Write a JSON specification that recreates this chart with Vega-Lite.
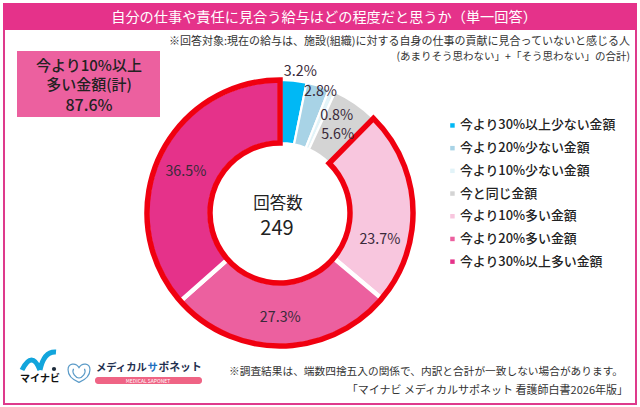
{"$schema":"https://vega.github.io/schema/vega-lite/v6.json","width":640,"height":407,"autosize":{"type":"none"},"padding":0,"background":"#ffffff","config":{"font":"Noto Sans CJK JP","view":{"stroke":null}},
"title":{"text":"自分の仕事や責任に見合う給与はどの程度だと思うか（単一回答）","anchor":"middle","frame":"group","orient":"top","offset":-25,"dx":4,"color":"#ffffff","fontSize":14.2,"fontWeight":400,"font":"Noto Sans CJK JP"},
"datasets":{"shares":[{"answer":"今より30%以上少ない金額","pct":3.2,"label":"3.2%","rank":1},{"answer":"今より20%少ない金額","pct":2.8,"label":"2.8%","rank":2},{"answer":"今より10%少ない金額","pct":0.8,"label":"0.8%","rank":3},{"answer":"今と同じ金額","pct":5.6,"label":"5.6%","rank":4},{"answer":"今より10%多い金額","pct":23.7,"label":"23.7%","rank":5},{"answer":"今より20%多い金額","pct":27.3,"label":"27.3%","rank":6},{"answer":"今より30%以上多い金額","pct":36.5,"label":"36.5%","rank":7}],"outline":[{"part":"その他","pct":12.4,"rank":1},{"part":"今より10%以上多い金額(計)","pct":87.6,"rank":2}]},
"resolve":{"scale":{"theta":"independent"}},
"layer":[
{"data":{"values":[{"box":"frame"}]},"mark":{"type":"rect","x":4,"y":4,"x2":636,"y2":404,"fill":"#ffffff","stroke":"#DE3A8C","strokeWidth":2}},
{"data":{"values":[{"box":"header"}]},"mark":{"type":"rect","x":3,"y":3,"x2":637,"y2":30,"fill":"#E5328A"}},
{"data":{"values":[{"box":"total"}]},"mark":{"type":"rect","x":17,"y":51,"x2":160,"y2":117,"fill":"#EC609F"}},
{"data":{"name":"shares"},"mark":{"type":"arc","innerRadius":70,"outerRadius":133,"x":280,"y":213,"stroke":"#ffffff","strokeWidth":{"expr":"datum.rank>=5?4.5:2.2"}},"encoding":{"theta":{"field":"pct","type":"quantitative","stack":true},"order":{"field":"rank"},"color":{"field":"answer","type":"nominal","scale":{"domain":["今より30%以上少ない金額","今より20%少ない金額","今より10%少ない金額","今と同じ金額","今より10%多い金額","今より20%多い金額","今より30%以上多い金額"],"range":["#00B8F5","#A8D3E6","#E2F3F8","#D4D4D4","#F8C6DE","#EC609F","#E5328A"]},"legend":{"orient":"none","legendX":446,"legendY":119,"title":null,"symbolType":"square","symbolSize":20,"labelFontSize":12.9,"labelFontWeight":500,"labelColor":"#222222","labelFont":"Noto Sans CJK JP","rowPadding":8.7,"labelOffset":1,"symbolStrokeWidth":0,"labelLimit":220}}}},
{"data":{"name":"outline"},"mark":{"type":"arc","innerRadius":70,"outerRadius":133,"x":280,"y":213,"fillOpacity":0,"stroke":"#F00010","strokeWidth":5.5,"strokeJoin":"miter"},"encoding":{"theta":{"field":"pct","type":"quantitative","stack":true},"order":{"field":"rank"},"strokeOpacity":{"condition":{"test":"datum.rank==2","value":1},"value":0}}},
{"data":{"name":"shares"},"mark":{"type":"text","x":280,"y":213,"fontSize":14.3,"color":"#3A2A3A","radius":{"expr":"datum.rank==1?143:datum.rank==2?128:datum.rank==3?114:datum.rank==4?98:101"},"dx":{"expr":"datum.rank==3?12:datum.rank==2?4:datum.rank==1?6:datum.rank==4?2:datum.rank==7?-2:datum.rank==5?-1:-1"},"dy":{"expr":"datum.rank==1?1:datum.rank==2?2:datum.rank==3?8:datum.rank==4?3:datum.rank==5?32:datum.rank==6?4:0"}},"encoding":{"theta":{"field":"pct","type":"quantitative","stack":true},"order":{"field":"rank"},"text":{"field":"label"},"detail":{"field":"answer"}}},
{"data":{"values":[{"t":"今より10%以上"}]},"mark":{"type":"text","x":89,"y":65.5,"fontSize":15,"fontWeight":500,"color":"#222222"},"encoding":{"text":{"field":"t"}}},
{"data":{"values":[{"t":"多い金額(計)"}]},"mark":{"type":"text","x":89,"y":84.5,"fontSize":15,"fontWeight":500,"color":"#222222"},"encoding":{"text":{"field":"t"}}},
{"data":{"values":[{"t":"87.6%"}]},"mark":{"type":"text","x":89,"y":106,"fontSize":16,"fontWeight":500,"color":"#222222"},"encoding":{"text":{"field":"t"}}},
{"data":{"values":[{"t":"回答数"}]},"mark":{"type":"text","x":278,"y":204,"fontSize":16.5,"color":"#222222"},"encoding":{"text":{"field":"t"}}},
{"data":{"values":[{"t":"249"}]},"mark":{"type":"text","x":277,"y":229,"fontSize":20,"color":"#222222"},"encoding":{"text":{"field":"t"}}},
{"data":{"values":[{"t":"※回答対象:現在の給与は、施設(組織)に対する自身の仕事の貢献に見合っていないと感じる人"}]},"mark":{"type":"text","x":630,"y":42,"align":"right","fontSize":11,"color":"#333333"},"encoding":{"text":{"field":"t"}}},
{"data":{"values":[{"t":"(あまりそう思わない」+「そう思わない」の合計)"}]},"mark":{"type":"text","x":630,"y":57,"align":"right","fontSize":10.5,"color":"#333333"},"encoding":{"text":{"field":"t"}}},
{"data":{"values":[{"t":"※調査結果は、端数四捨五入の関係で、内訳と合計が一致しない場合があります。"}]},"mark":{"type":"text","x":623,"y":372,"align":"right","fontSize":10.7,"color":"#333333"},"encoding":{"text":{"field":"t"}}},
{"data":{"values":[{"t":"「マイナビ メディカルサポネット 看護師白書2026年版」"}]},"mark":{"type":"text","x":628,"y":391,"align":"right","fontSize":11,"color":"#333333"},"encoding":{"text":{"field":"t"}}},
{"data":{"values":[{"logo":"swoosh"}]},"mark":{"type":"point","x":40,"y":361,"size":1600,"filled":false,"stroke":"#12A5DC","strokeWidth":5,"opacity":1,"shape":"M-0.9 0.45 Q-0.4 -0.55 0 0.45 M0 0.45 Q0.2 -0.5 0.8 -0.45"}},
{"data":{"values":[{"logo":"dot"}]},"mark":{"type":"point","x":54,"y":369,"size":18,"filled":true,"fill":"#1C2A3A","opacity":1,"shape":"circle"}},
{"data":{"values":[{"t":"マイナビ"}]},"mark":{"type":"text","x":40,"y":379,"fontSize":10,"fontWeight":700,"color":"#111111"},"encoding":{"text":{"field":"t"}}},
{"data":{"values":[{"logo":"heart"}]},"mark":{"type":"point","x":79,"y":372,"size":480,"filled":false,"stroke":"#5B9BC8","strokeWidth":1.2,"opacity":1,"shape":"M0 0.95 C-0.5 0.75 -1 0.35 -1 -0.2 C-1 -0.8 -0.3 -0.9 0 -0.4 C0.3 -0.9 1 -0.8 1 -0.2 C1 0.35 0.5 0.75 0 0.95 Z M-0.5 -0.3 C-0.7 0.1 -0.3 0.5 0 0.55 C0.3 0.5 0.7 0.1 0.5 -0.3"}},
{"data":{"values":[{"logo":"bar"}]},"mark":{"type":"rect","x":95,"y":377,"x2":202,"y2":384,"fill":"#EF6485","cornerRadius":3}},
{"data":{"values":[{"t":"MEDICAL SAPONET"}]},"mark":{"type":"text","x":148,"y":381,"fontSize":5,"color":"#ffffff"},"encoding":{"text":{"field":"t"}}},
{"data":{"values":[{"t":"メディカル"}]},"mark":{"type":"text","x":96,"y":368,"align":"left","fontSize":10.3,"fontWeight":700,"color":"#1F2F4F"},"encoding":{"text":{"field":"t"}}},
{"data":{"values":[{"t":"サ"}]},"mark":{"type":"text","x":147.5,"y":368,"align":"left","fontSize":10.3,"fontWeight":700,"color":"#1E6FC0"},"encoding":{"text":{"field":"t"}}},
{"data":{"values":[{"t":"ポネット"}]},"mark":{"type":"text","x":158.5,"y":368,"align":"left","fontSize":10.8,"fontWeight":700,"color":"#1F2F4F"},"encoding":{"text":{"field":"t"}}}
]}
